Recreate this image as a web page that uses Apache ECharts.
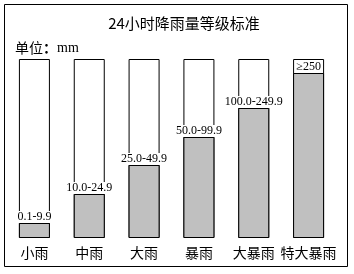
<!DOCTYPE html>
<html><head><meta charset="utf-8">
<script src="https://cdn.jsdelivr.net/npm/echarts@6/dist/echarts.min.js"></script>
<style>html,body{margin:0;padding:0;background:#fff}#c{width:354px;height:274px}</style>
</head><body><div id="c"></div>
<script>
const categories = ['小雨','中雨','大雨','暴雨','大暴雨','特大暴雨'];
const levels = [15, 44, 73, 101, 130, 165];
const rangeLabels = ['0.1-9.9','10.0-24.9','25.0-49.9','50.0-99.9','100.0-249.9','≥250'];
const fullHeight = 179;

const chart = echarts.init(document.getElementById('c'));
chart.setOption({
  animation: false,
  title: {
    text: '24小时降雨量等级标准', left: 179, top: 11, textAlign: 'center',
    textStyle: {fontFamily: 'Noto Sans CJK SC', fontSize: 15, fontWeight: 'normal', color: '#000'}
  },
  graphic: [
    {type: 'rect', shape: {x: 4.5, y: 4.5, width: 343, height: 262}, style: {fill: 'none', stroke: '#000', lineWidth: 1}, z: 0},
    {type: 'text', left: 15, top: 41, style: {
      text: '{a|单位}{b|：}{c|mm}',
      rich: {
        a: {fontFamily: 'Noto Sans CJK SC', fontSize: 14, fill: '#000'},
        b: {fontFamily: 'Noto Sans CJK SC', fontSize: 14, fontWeight: 'bold', fill: '#000'},
        c: {fontFamily: 'Liberation Serif', fontSize: 14, fill: '#000'}
      }
    }}
  ],
  grid: {left: 7, right: 18, top: 59, bottom: 36, containLabel: false},
  xAxis: {
    type: 'category', data: categories,
    axisLine: {show: false}, axisTick: {show: false},
    axisLabel: {fontFamily: 'Noto Sans CJK SC', fontSize: 14, color: '#000', margin: 8, interval: 0}
  },
  yAxis: {type: 'value', min: 0, max: fullHeight, show: false, splitLine: {show: false}},
  series: [
    {
      type: 'bar', barWidth: 31, data: categories.map(() => fullHeight),
      itemStyle: {color: '#fff', borderColor: '#000', borderWidth: 1},
      silent: true, z: 1
    },
    {
      type: 'bar', barWidth: 31, barGap: '-100%', data: levels,
      itemStyle: {color: '#c0c0c0', borderColor: '#000', borderWidth: 1},
      label: {
        show: true, position: 'top', distance: 0,
        formatter: p => rangeLabels[p.dataIndex],
        fontFamily: 'Liberation Serif', fontSize: 12, color: '#000',
        backgroundColor: '#fff', padding: [0, 0, 0, 0]
      },
      z: 2
    }
  ]
});
</script></body></html>
